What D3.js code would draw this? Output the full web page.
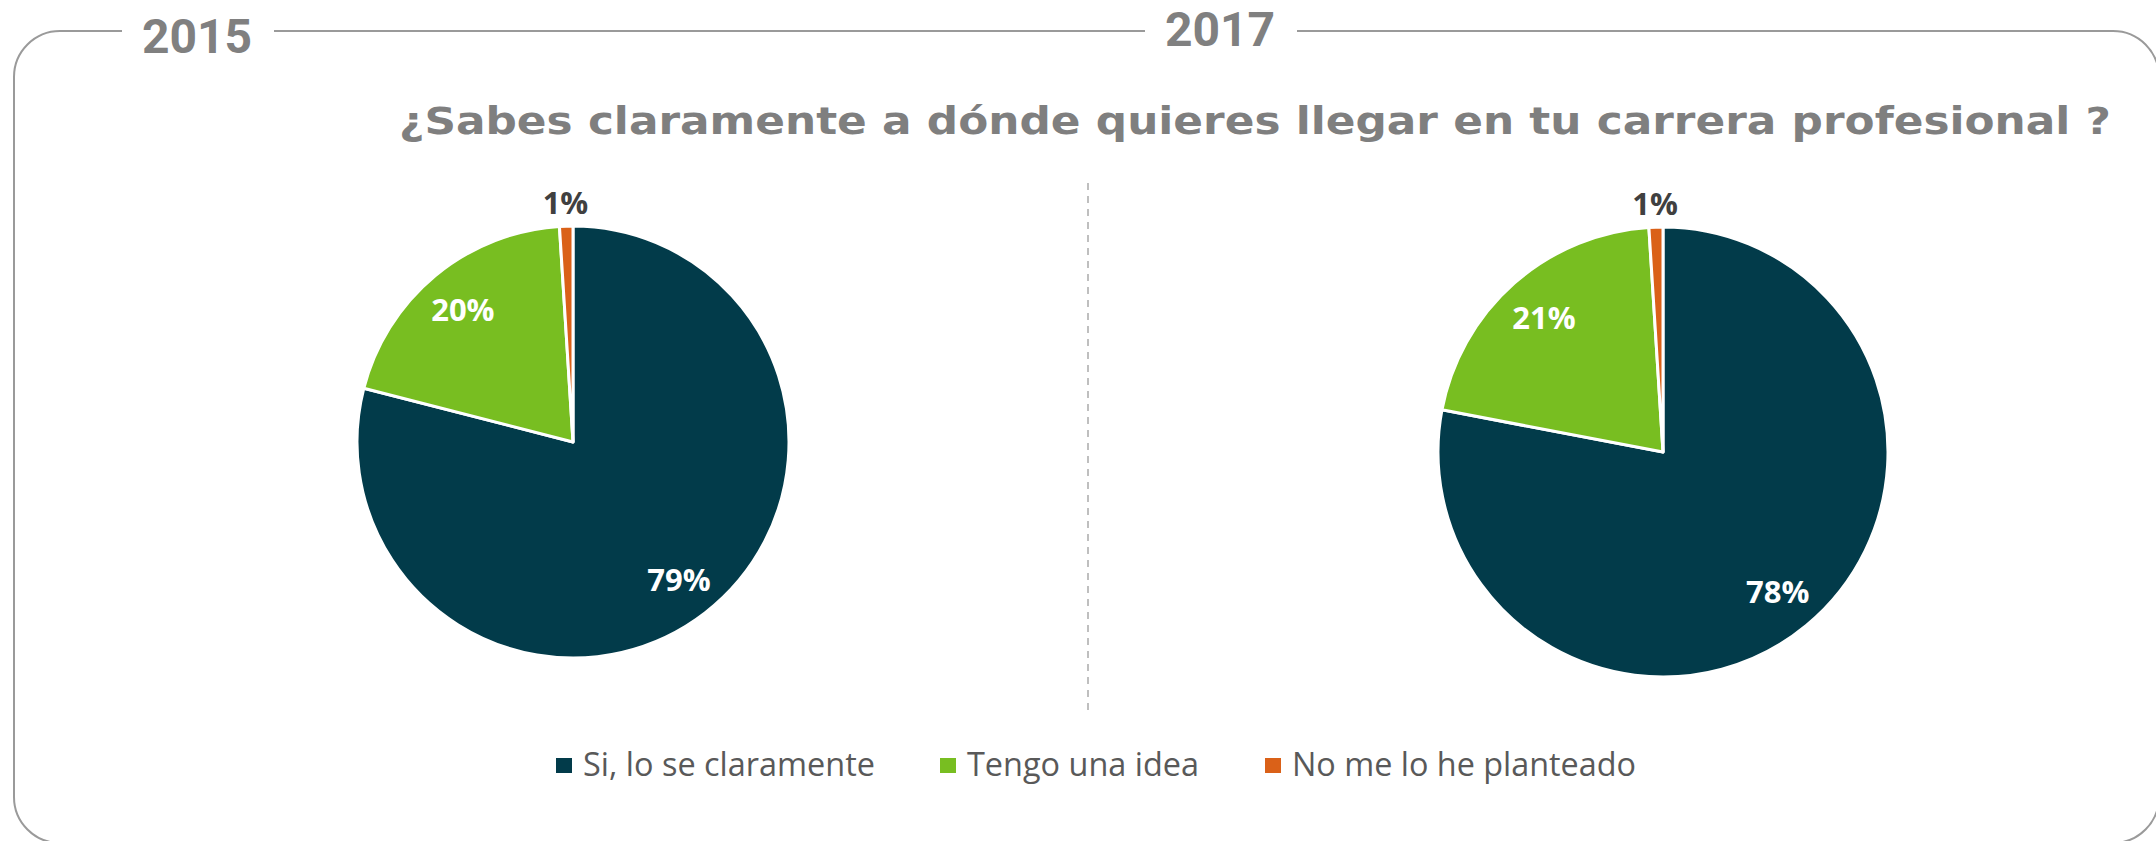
<!DOCTYPE html>
<html><head><meta charset="utf-8">
<script src="https://cdn.jsdelivr.net/npm/d3@7"></script>
<style>html,body{margin:0;padding:0;background:#fff;}svg{display:block;}</style>
</head><body>
<svg id="chart" width="2156" height="841"></svg>
<script>
const categories = ["Si, lo se claramente", "Tengo una idea", "No me lo he planteado"];
const years = ["2015", "2017"];
const values2015 = [79, 20, 1];
const values2017 = [78, 21, 1];
const valueLabels2015 = ["79%", "20%", "1%"];
const valueLabels2017 = ["78%", "21%", "1%"];
const colors = ["#023B4A", "#78BE21", "#DA6118"];
const title = "¿Sabes claramente a dónde quieres llegar en tu carrera profesional ?";

const svg = d3.select("#chart");

// Frame
svg.append("rect").attr("x", 14).attr("y", 31).attr("width", 2145).attr("height", 812)
  .attr("rx", 46).attr("ry", 46).attr("fill", "none").attr("stroke", "#9a9a9a").attr("stroke-width", 2);
// gaps behind year labels
svg.append("rect").attr("x", 122).attr("y", 20).attr("width", 152).attr("height", 20).attr("fill", "#fff");
svg.append("rect").attr("x", 1145).attr("y", 20).attr("width", 152).attr("height", 20).attr("fill", "#fff");

const yearPos = [{x: 197, y: 53}, {x: 1220, y: 46}];
svg.selectAll("text.year").data(years).join("text").attr("class", "year")
  .attr("x", (d, i) => yearPos[i].x).attr("y", (d, i) => yearPos[i].y)
  .attr("text-anchor", "middle").attr("font-family", "Roboto, sans-serif").attr("font-weight", 700)
  .attr("font-size", 48).attr("fill", "#808080").text(d => d);

// Title
svg.append("text").attr("x", 399).attr("y", 134).attr("font-family", "'DejaVu Sans', sans-serif")
  .attr("font-weight", 700).attr("font-size", 37).attr("fill", "#7f7f7f")
  .attr("textLength", 1712).attr("lengthAdjust", "spacingAndGlyphs").text(title);

// Divider
svg.append("line").attr("x1", 1088).attr("x2", 1088).attr("y1", 183).attr("y2", 716)
  .attr("stroke", "#aaaaaa").attr("stroke-width", 1.5).attr("stroke-dasharray", "7,6");

const pies = [
  {values: values2015, labels: valueLabels2015, cx: 573, cy: 442, r: 216},
  {values: values2017, labels: valueLabels2017, cx: 1663, cy: 452, r: 225}
];
const pie = d3.pie().sort(null).value(d => d);

pies.forEach(p => {
  const g = svg.append("g").attr("transform", `translate(${p.cx},${p.cy})`);
  const arcs = pie(p.values);
  const arc = d3.arc().innerRadius(0).outerRadius(p.r);
  const inner = d3.arc().innerRadius(p.r * 0.8).outerRadius(p.r * 0.8);
  const outer = d3.arc().innerRadius(p.r + 24).outerRadius(p.r + 24);
  g.selectAll("path").data(arcs).join("path").attr("d", arc)
    .attr("fill", (d, i) => colors[i]).attr("stroke", "#fff").attr("stroke-width", 3).attr("stroke-linejoin", "round");
  g.selectAll("text").data(arcs).join("text")
    .attr("transform", (d, i) => `translate(${(i === 2 ? outer : inner).centroid(d)})`)
    .attr("text-anchor", "middle").attr("dominant-baseline", "central")
    .attr("font-family", "'Open Sans', sans-serif").attr("font-weight", 700).attr("font-size", 31)
    .attr("fill", (d, i) => i === 2 ? "#404040" : "#ffffff")
    .text((d, i) => p.labels[i]);
});

// Legend
const legendX = [556, 940, 1265];
const legendW = [292, 232, 344];
const lg = svg.selectAll("g.leg").data(categories).join("g").attr("class", "leg")
  .attr("transform", (d, i) => `translate(${legendX[i]},758)`);
lg.append("rect").attr("width", 16).attr("height", 15).attr("fill", (d, i) => colors[i]);
lg.append("text").attr("x", 27).attr("y", 18).attr("font-family", "'Open Sans', sans-serif")
  .attr("font-size", 32).attr("fill", "#595959")
  .attr("textLength", (d, i) => legendW[i]).attr("lengthAdjust", "spacingAndGlyphs").text(d => d);
</script>
</body></html>
